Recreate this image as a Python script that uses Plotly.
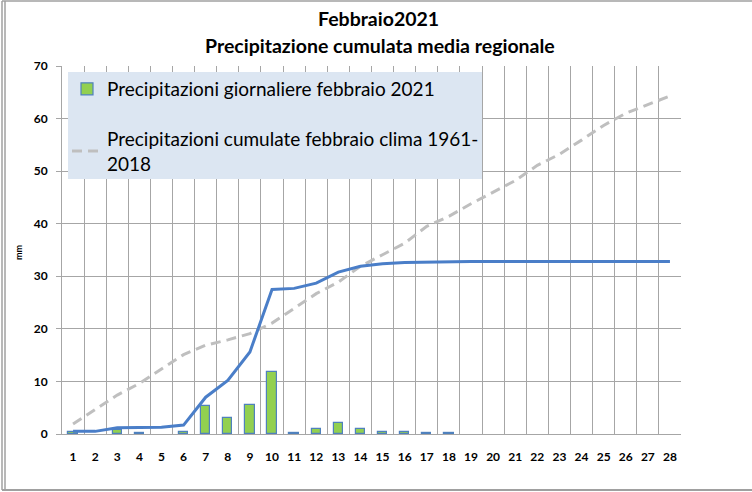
import plotly.graph_objects as go

# days of February 2021
days = list(range(1, 29))
day_labels = [str(d) for d in days]

# daily precipitation February 2021 (mm); None = no rain that day
daily_2021 = [0.4, None, 0.8, 0.1, None, 0.4, 5.3, 3.0, 5.6, 11.8, 0.1, 1.0, 2.0, 1.0,
              0.4, 0.3, 0.1, 0.1, None, None, None, None, None, None, None, None, None, None]

# cumulated precipitation February 2021 (mm)
cum_2021 = [0.5, 0.5, 1.2, 1.3, 1.3, 1.7, 7.0, 10.2, 15.6, 27.5, 27.7, 28.7, 30.8, 31.9,
            32.4, 32.6, 32.7, 32.8, 32.8, 32.8, 32.8, 32.8, 32.8, 32.8, 32.8, 32.8, 32.8, 32.8]

# cumulated climatology 1961-2018 (mm)
cum_clima = [1.9, 4.7, 7.4, 9.6, 12.3, 15.1, 16.9, 17.9, 19.1, 21.1, 23.9, 26.7, 28.9, 31.9,
             34.1, 36.3, 39.5, 41.4, 43.8, 46.0, 48.2, 51.1, 53.2, 55.9, 58.7, 61.0, 62.6, 64.3]

GRID = "#a6a6a6"
FONT = "Lato"

fig = go.Figure()

fig.add_trace(
    go.Bar(
        x=days,
        y=daily_2021,
        width=0.42,
        name="Precipitazioni giornaliere febbraio 2021",
        marker=dict(color="#92d050", line=dict(color="#4f81bd", width=1.2)),
        legendgroup="a",
    )
)
fig.add_trace(
    go.Scatter(
        x=days,
        y=cum_clima,
        mode="lines",
        name="Precipitazioni cumulate febbraio clima 1961-<br>2018",
        line=dict(color="#bfbfbf", width=3, dash="10px,6px"),
        legendgroup="b",
    )
)
fig.add_trace(
    go.Scatter(
        x=days,
        y=cum_2021,
        mode="lines",
        name="Precipitazioni cumulate febbraio 2021",
        line=dict(color="#4a7ec8", width=3),
        showlegend=False,
    )
)

# plot area in pixels: x 62..681, y 66..434
L, R, T, B = 62, 681, 66, 434
W, H = R - L, B - T


def px_x(p):
    return (p - L) / W


def px_y(p):
    return (B - p) / H


shapes = [
    # legend background
    dict(type="rect", xref="paper", yref="paper",
         x0=px_x(68), x1=px_x(482), y0=px_y(179), y1=px_y(72),
         fillcolor="#dce6f2", line=dict(width=0), layer="above"),
    # outer frame
    dict(type="line", xref="paper", yref="paper",
         x0=px_x(2), x1=px_x(752), y0=px_y(1), y1=px_y(1),
         line=dict(color="#a0a0a0", width=1.5)),
    dict(type="line", xref="paper", yref="paper",
         x0=px_x(2), x1=px_x(752), y0=px_y(490), y1=px_y(490),
         line=dict(color="#a0a0a0", width=2)),
    dict(type="line", xref="paper", yref="paper",
         x0=px_x(2), x1=px_x(2), y0=px_y(1), y1=px_y(490),
         line=dict(color="#a0a0a0", width=1.5)),
    dict(type="line", xref="paper", yref="paper",
         x0=px_x(5), x1=px_x(5), y0=px_y(1), y1=px_y(490),
         line=dict(color="#a0a0a0", width=1.5)),
]

annotations = [
    dict(text="<b>Febbraio2021</b>", xref="paper", yref="paper",
         x=px_x(378), y=px_y(19), xanchor="center", yanchor="middle", showarrow=False,
         font=dict(family=FONT, size=19.5, color="#000000")),
    dict(text="<b>Precipitazione cumulata media regionale</b>", xref="paper", yref="paper",
         x=px_x(380), y=px_y(46), xanchor="center", yanchor="middle", showarrow=False,
         font=dict(family=FONT, size=19.5, color="#000000")),
    dict(text="<b>mm</b>", xref="paper", yref="paper",
         x=px_x(18), y=px_y(252), xanchor="center", yanchor="middle", showarrow=False,
         textangle=-90, font=dict(family=FONT, size=9, color="#000000")),
]

fig.update_layout(
    width=752,
    height=492,
    margin=dict(l=L, r=752 - R, t=T, b=492 - B, autoexpand=False),
    paper_bgcolor="white",
    plot_bgcolor="white",
    bargap=0,
    showlegend=True,
    legend=dict(
        x=px_x(67), y=px_y(70), xanchor="left", yanchor="top",
        bgcolor="rgba(0,0,0,0)",
        font=dict(family=FONT, size=19, color="#000000"),
        tracegroupgap=22,
        itemwidth=30,
    ),
    shapes=shapes,
    annotations=annotations,
    xaxis=dict(
        range=[0.5, 28.5],
        tickmode="array",
        tickvals=days,
        ticktext=day_labels,
        showgrid=False,
        showline=True,
        linecolor=GRID,
        linewidth=1,
        ticks="",
        ticklabelstandoff=12,
        tickfont=dict(family=FONT, size=12, color="#000000", weight="bold"),
        minor=dict(tick0=0.5, dtick=1, showgrid=True, gridcolor=GRID, gridwidth=1, ticks=""),
        zeroline=False,
    ),
    yaxis=dict(
        range=[0, 70],
        dtick=10,
        showgrid=True,
        gridcolor=GRID,
        gridwidth=1,
        showline=True,
        linecolor=GRID,
        linewidth=1,
        ticks="outside",
        ticklen=5,
        tickcolor=GRID,
        ticklabelstandoff=6,
        tickfont=dict(family=FONT, size=12, color="#000000", weight="bold"),
        zeroline=False,
    ),
)

# drop the browser's default page margin so the figure sits at the window corner
fig.write_html(
    "out.html",
    config={"displayModeBar": False},
    post_script="document.body.style.margin='0';",
)
